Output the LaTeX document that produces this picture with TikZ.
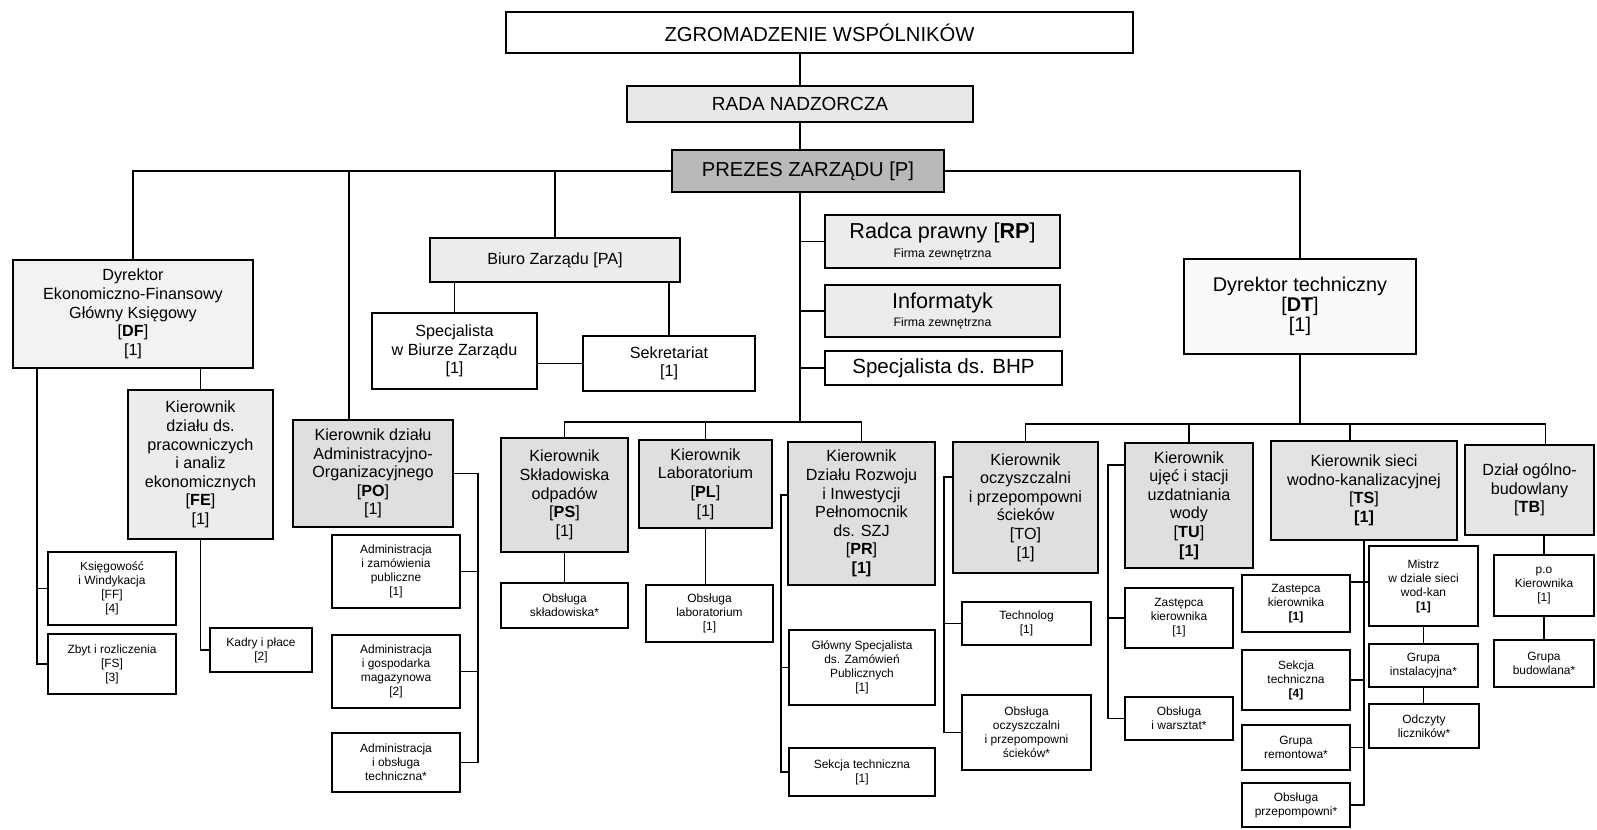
\documentclass[tikz,border=0pt]{standalone}
\usepackage{fontspec}
\setmainfont{Liberation Sans}
\newcommand{\fstop}{\fontsize{11.5}{13}\selectfont}
\newcommand{\fsdir}{\fontsize{11.3}{11.5}\selectfont}
\newcommand{\fsmid}{\fontsize{9.2}{10.6}\selectfont}
\newcommand{\fsext}{\fontsize{12.3}{13}\selectfont}
\newcommand{\fssmall}{\fontsize{6.8}{8}\selectfont}
\newcommand{\fstiny}{\fontsize{7}{8}\selectfont}

\begin{document}
\begin{tikzpicture}[x=0.02cm,y=-0.02cm,
  unit/.style={draw,line width=0.8pt,align=center,inner sep=1pt,font=\fsmid},
  post/.style={draw,line width=0.8pt,align=center,inner sep=1pt,font=\fssmall,fill=white},
  link/.style={line width=0.7pt}]
  \fill[white] (0,0) rectangle (1597,830);
  \useasboundingbox (0,0) rectangle (1597,830);

  \node (ZW) at (819.5,32.5) [unit,font=\fstop,minimum width=12.54cm,minimum height=0.82cm] {ZGROMADZENIE WSPÓLNIKÓW};
  \node (RN) at (800,104) [unit,font=\fontsize{10.8}{12}\selectfont,fill=gray!18,minimum width=6.92cm,minimum height=0.72cm] {RADA NADZORCZA};
  \node (P) at (808,171) [unit,font=\fstop,fill=gray!55,minimum width=5.44cm,minimum height=0.84cm] {PREZES ZARZĄDU [P]};

  \node (DF) at (133,314) [unit,fill=gray!10,minimum width=4.8cm,minimum height=2.16cm] {Dyrektor\\Ekonomiczno-Finansowy\\Główny Księgowy\\{[\textbf{DF}]}\\{[1]}};
  \node (FE) at (200.5,464.5) [unit,fill=gray!15,minimum width=2.9cm,minimum height=2.98cm] {Kierownik\\działu ds.\\pracowniczych\\i analiz\\ekonomicznych\\{[\textbf{FE}]}\\{[1]}};
  \node (FF) at (112,588.5) [post,minimum width=2.56cm,minimum height=1.46cm] {Księgowość\\i Windykacja\\{[FF]}\\{[4]}};
  \node (FS) at (112,664) [post,minimum width=2.56cm,minimum height=1.2cm] {Zbyt i rozliczenia\\{[FS]}\\{[3]}};
  \node (KP) at (261,650) [post,minimum width=2.04cm,minimum height=0.88cm] {Kadry i płace\\{[2]}};

  \node (PO) at (373,473.5) [unit,fill=gray!25,minimum width=3.2cm,minimum height=2.14cm] {Kierownik działu\\Administracyjno-\\Organizacyjnego\\{[\textbf{PO}]}\\{[1]}};
  \node (A1) at (396,571.5) [post,minimum width=2.56cm,minimum height=1.46cm] {Administracja\\i zamówienia\\publiczne\\{[1]}};
  \node (A2) at (396,671.5) [post,minimum width=2.56cm,minimum height=1.46cm] {Administracja\\i gospodarka\\magazynowa\\{[2]}};
  \node (A3) at (396,762.5) [post,minimum width=2.56cm,minimum height=1.18cm] {Administracja\\i obsługa\\techniczna*};

  \node (PA) at (555,260) [unit,fill=gray!15,minimum width=5cm,minimum height=0.88cm] {Biuro Zarządu [PA]};
  \node (SB) at (454.5,351) [unit,minimum width=3.3cm,minimum height=1.52cm] {Specjalista\\w Biurze Zarządu\\{[1]}};
  \node (SK) at (669,363.5) [unit,minimum width=3.44cm,minimum height=1.1cm] {Sekretariat\\{[1]}};

  \node (RP) at (942.5,241.5) [unit,fill=gray!15,minimum width=4.7cm,minimum height=1.06cm] {{\fsext Radca prawny [\textbf{RP}]}\\{\fstiny Firma zewnętrzna}};
  \node (IT) at (942.5,311) [unit,fill=gray!15,minimum width=4.7cm,minimum height=1.04cm] {{\fsext Informatyk}\\{\fstiny Firma zewnętrzna}};
  \node (BHP) at (943.5,368) [unit,font=\fontsize{11.7}{13}\selectfont,minimum width=4.74cm,minimum height=0.68cm] {Specjalista ds. BHP};

  \node (PS) at (564.5,495) [unit,fill=gray!25,minimum width=2.54cm,minimum height=2.28cm] {Kierownik\\Składowiska\\odpadów\\{[\textbf{PS}]}\\{[1]}};
  \node (PL) at (705.5,484) [unit,fill=gray!25,minimum width=2.66cm,minimum height=1.76cm] {Kierownik\\Laboratorium\\{[\textbf{PL}]}\\{[1]}};
  \node (PR) at (861.5,513.5) [unit,fill=gray!25,minimum width=2.94cm,minimum height=2.86cm] {Kierownik\\Działu Rozwoju\\i Inwestycji\\Pełnomocnik\\ds. SZJ\\{[\textbf{PR}]}\\{\textbf{[1]}}};
  \node (OS) at (564.5,605.5) [post,minimum width=2.54cm,minimum height=0.9cm] {Obsługa\\składowiska*};
  \node (OL) at (709.5,613.5) [post,minimum width=2.54cm,minimum height=1.14cm] {Obsługa\\laboratorium\\{[1]}};
  \node (GS) at (862,667.5) [post,minimum width=2.92cm,minimum height=1.5cm] {Główny Specjalista\\ds. Zamówień\\Publicznych\\{[1]}};
  \node (ST) at (862,772) [post,minimum width=2.92cm,minimum height=0.96cm] {Sekcja techniczna\\{[1]}};

  \node (DT) at (1300,306.5) [unit,font=\fsdir,fill=gray!4,minimum width=4.64cm,minimum height=1.9cm] {Dyrektor techniczny\\{[\textbf{DT}]}\\{[1]}};
  \node (TO) at (1025.5,507.5) [unit,fill=gray!25,minimum width=2.9cm,minimum height=2.62cm] {Kierownik\\oczyszczalni\\i przepompowni\\ścieków\\{[TO]}\\{[1]}};
  \node (TU) at (1189,505.5) [unit,fill=gray!25,minimum width=2.56cm,minimum height=2.5cm] {Kierownik\\ujęć i stacji\\uzdatniania\\wody\\{[\textbf{TU}]}\\{\textbf{[1]}}};
  \node (TS) at (1364,490.5) [unit,fill=gray!22,minimum width=3.72cm,minimum height=1.98cm] {Kierownik sieci\\wodno-kanalizacyjnej\\{[\textbf{TS}]}\\{\textbf{[1]}}};
  \node (TB) at (1529.5,490) [unit,fill=gray!20,minimum width=2.58cm,minimum height=1.8cm] {Dział ogólno-\\budowlany\\{[\textbf{TB}]}};

  \node (TE) at (1026.5,623.5) [post,minimum width=2.58cm,minimum height=0.86cm] {Technolog\\{[1]}};
  \node (OO) at (1026.5,732.5) [post,minimum width=2.58cm,minimum height=1.5cm] {Obsługa\\oczyszczalni\\i przepompowni\\ścieków*};
  \node (ZU) at (1179,618) [post,minimum width=2.16cm,minimum height=1.2cm] {Zastępca\\kierownika\\{[1]}};
  \node (OW) at (1179,718.5) [post,minimum width=2.16cm,minimum height=0.86cm] {Obsługa\\i warsztat*};
  \node (ZT) at (1296,603.5) [post,minimum width=2.16cm,minimum height=1.14cm] {Zastepca\\kierownika\\{\textbf{[1]}}};
  \node (SE) at (1296,680) [post,minimum width=2.16cm,minimum height=1.2cm] {Sekcja\\techniczna\\{\textbf{[4]}}};
  \node (GR) at (1296,747.5) [post,minimum width=2.16cm,minimum height=0.9cm] {Grupa\\remontowa*};
  \node (OP) at (1296,805) [post,minimum width=2.16cm,minimum height=0.88cm] {Obsługa\\przepompowni*};
  \node (MI) at (1423.5,586) [post,minimum width=2.18cm,minimum height=1.6cm] {Mistrz\\w dziale sieci\\wod-kan\\{\textbf{[1]}}};
  \node (GI) at (1423.5,665.5) [post,minimum width=2.18cm,minimum height=0.86cm] {Grupa\\instalacyjna*};
  \node (OD) at (1424,726) [post,minimum width=2.2cm,minimum height=0.88cm] {Odczyty\\liczników*};
  \node (PK) at (1544,585.5) [post,minimum width=2cm,minimum height=1.22cm] {p.o\\Kierownika\\{[1]}};
  \node (GB) at (1544,663.5) [post,minimum width=2cm,minimum height=0.94cm] {Grupa\\budowlana*};

  \coordinate (hub) at (800,422);
  \coordinate (dfbus) at (37,368);
  \coordinate (pobus) at (478,474);
  \coordinate (prbus) at (781,495);
  \coordinate (dtbus) at (1300,424);
  \coordinate (tobus) at (944,477);
  \coordinate (tubus) at (1108,465);
  \coordinate (tsjoin) at (1362,582);

  \draw[link] (ZW.south -| RN.north) -- (RN.north);
  \draw[link] (RN.south) -- (RN.south |- P.north);
  \draw[link] (DF.north) |- (P.west);
  \draw[link] ([xshift=-0.48cm]PO.north) -- ([xshift=-0.48cm]PO.north |- P.west);
  \draw[link] (PA.north) -- (PA.north |- P.west);
  \draw[link] (P.east) -| (DT.north);

  \draw[link] (dfbus) |- (FS.west);
  \draw[link] (dfbus |- FF.west) -- (FF.west);
  \draw[link] (FE.north) -- (FE.north |- DF.south);
  \draw[link] (FE.south) |- (KP.west);

  \draw[link] (PO.east -| pobus) -- (PO.east);
  \draw[link] (PO.east -| pobus) |- (A3.east);
  \draw[link] (pobus |- A1.east) -- (A1.east);
  \draw[link] (pobus |- A2.east) -- (A2.east);

  \draw[link] (SB.north) -- (SB.north |- PA.south);
  \draw[link] (SK.north) -- (SK.north |- PA.south);
  \draw[link] (SK.west) -- (SK.west -| SB.east);

  \draw[link] (P.south -| hub) -- (hub);
  \draw[link] (RP.west -| hub) -- (RP.west);
  \draw[link] (IT.west -| hub) -- (IT.west);
  \draw[link] (BHP.west -| hub) -- (BHP.west);
  \draw[link] (PS.north) |- (hub) -| (PR.north);
  \draw[link] (PL.north) -- (PL.north |- hub);
  \draw[link] (PS.south) -- (OS.north);
  \draw[link] (PL.south) -- (PL.south |- OL.north);
  \draw[link] (prbus -| PR.west) -- (prbus) |- (ST.west);
  \draw[link] (prbus |- GS.west) -- (GS.west);

  \draw[link] (DT.south) -- (dtbus);
  \draw[link] (TO.north) |- (dtbus) -| ([xshift=0.32cm]TB.north);
  \draw[link] (TU.north) -- (TU.north |- dtbus);
  \draw[link] ([xshift=-0.28cm]TS.north) -- ([xshift=-0.28cm]TS.north |- dtbus);

  \draw[link] (tobus -| TO.west) -- (tobus) |- (OO.west);
  \draw[link] (tobus |- TE.west) -- (TE.west);
  \draw[link] (tubus -| TU.west) -- (tubus) |- (OW.west);
  \draw[link] (tubus |- ZU.west) -- (ZU.west);

  \draw[link] (TS.south) |- (OP.east);
  \draw[link] (tsjoin -| ZT.east) -- (tsjoin -| MI.west);
  \draw[link] (TS.south |- SE.east) -- (SE.east);
  \draw[link] (TS.south |- GR.east) -- (GR.east);
  \draw[link] (MI.south) -- (GI.north);
  \draw[link] (GI.south) -- (GI.south |- OD.north);
  \draw[link] (PK.north) -- (PK.north |- TB.south);
  \draw[link] (PK.south) -- (GB.north);
\end{tikzpicture}
\end{document}
